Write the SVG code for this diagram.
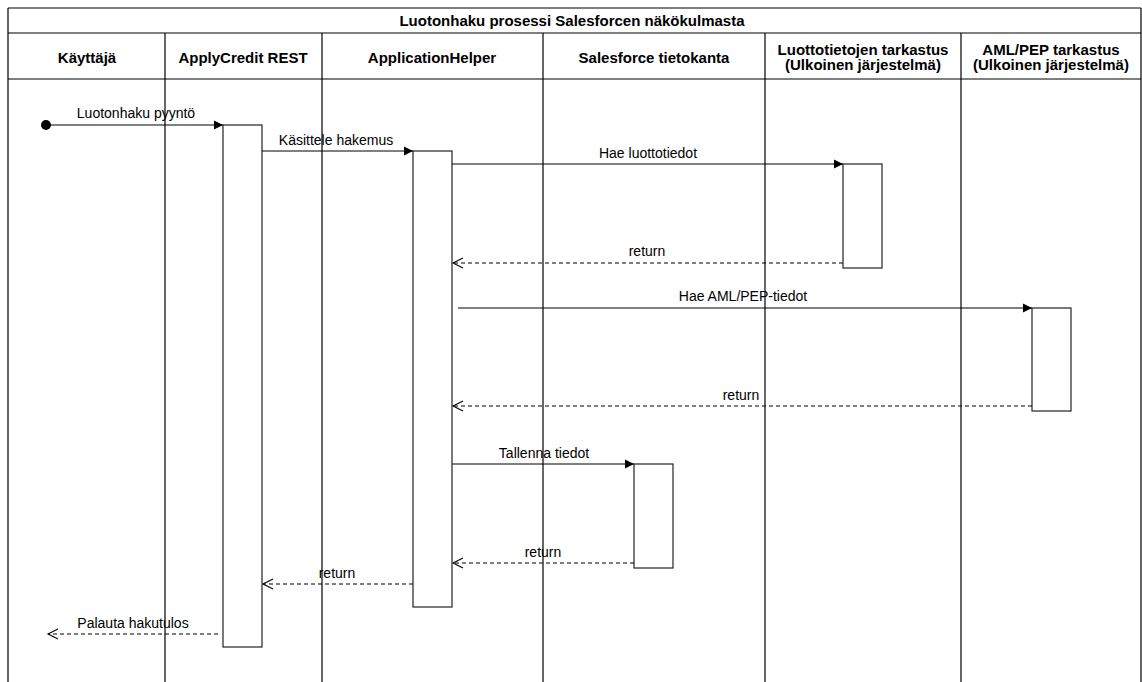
<svg xmlns="http://www.w3.org/2000/svg" width="1142" height="682" viewBox="0 0 1142 682">
<style>
.frame{stroke:#000;stroke-width:1.2;fill:none}
.hdr{font-family:"Liberation Sans",Arial,sans-serif;font-size:15px;font-weight:bold;fill:#000;text-anchor:middle}
.lbl{font-family:"Liberation Sans",Arial,sans-serif;font-size:14px;fill:#000;text-anchor:middle}
.act{fill:#fff;stroke:#222;stroke-width:1.2}
.call{stroke:#000;stroke-width:1;fill:none;marker-end:url(#tri)}
.ret{stroke:#000;stroke-width:1;fill:none;stroke-dasharray:4 3;marker-end:url(#open)}
</style>
<defs>
<marker id="tri" markerWidth="10" markerHeight="10" refX="9" refY="5" orient="auto" markerUnits="userSpaceOnUse">
<path d="M0,0.5 L9,5 L0,9.5 Z" fill="#000"/>
</marker>
<marker id="open" markerWidth="14" markerHeight="12" refX="11" refY="6" orient="auto" markerUnits="userSpaceOnUse">
<path d="M1,1 L11,6 L1,11" fill="none" stroke="#000" stroke-width="1.1"/>
</marker>
</defs>
<rect width="1142" height="682" fill="#fff"/>
<g id="frame">
<line class="frame" x1="8" y1="8" x2="1141" y2="8"/>
<line class="frame" x1="8" y1="33" x2="1141" y2="33"/>
<line class="frame" x1="8" y1="79" x2="1141" y2="79"/>
<line class="frame" x1="8" y1="8" x2="8" y2="682"/>
<line class="frame" x1="1141" y1="8" x2="1141" y2="682"/>
<text class="hdr" x="572" y="26">Luotonhaku prosessi Salesforcen näkökulmasta</text>
</g>
<g id="lane-kayttaja">
<text class="hdr" x="87" y="63">Käyttäjä</text>
<line class="frame" x1="165" y1="33" x2="165" y2="682"/>
</g>
<g id="lane-applycredit">
<text class="hdr" x="243" y="63">ApplyCredit REST</text>
<line class="frame" x1="322" y1="33" x2="322" y2="682"/>
</g>
<g id="lane-applicationhelper">
<text class="hdr" x="432" y="63">ApplicationHelper</text>
<line class="frame" x1="543" y1="33" x2="543" y2="682"/>
</g>
<g id="lane-salesforce">
<text class="hdr" x="654" y="63">Salesforce tietokanta</text>
<line class="frame" x1="765" y1="33" x2="765" y2="682"/>
</g>
<g id="lane-luottotiedot">
<text class="hdr" x="863" y="55">Luottotietojen tarkastus</text>
<text class="hdr" x="863" y="70">(Ulkoinen järjestelmä)</text>
<line class="frame" x1="961" y1="33" x2="961" y2="682"/>
</g>
<g id="lane-amlpep">
<text class="hdr" x="1051" y="55">AML/PEP tarkastus</text>
<text class="hdr" x="1051" y="70">(Ulkoinen järjestelmä)</text>
</g>
<g id="start">
<circle cx="46" cy="125" r="5" fill="#000"/>
</g>
<g id="act-applycredit"><rect class="act" x="223" y="125" width="39" height="522"/></g>
<g id="act-applicationhelper"><rect class="act" x="413" y="151" width="39" height="456"/></g>
<g id="act-luottotiedot"><rect class="act" x="843" y="164" width="39" height="104"/></g>
<g id="act-amlpep"><rect class="act" x="1032" y="308" width="39" height="103"/></g>
<g id="act-salesforce"><rect class="act" x="634" y="464" width="39" height="104"/></g>
<g id="connectors">
<line class="call" x1="46" y1="125" x2="223" y2="125"/>
<text class="lbl" x="136" y="118">Luotonhaku pyyntö</text>
<line class="call" x1="262" y1="151" x2="413" y2="151"/>
<text class="lbl" x="336" y="145">Käsittele hakemus</text>
<line class="call" x1="452" y1="164" x2="843" y2="164"/>
<text class="lbl" x="648" y="158">Hae luottotiedot</text>
<line class="ret" x1="843" y1="263" x2="453" y2="263"/>
<text class="lbl" x="647" y="256">return</text>
<line class="call" x1="458" y1="308" x2="1032" y2="308"/>
<text class="lbl" x="743" y="301">Hae AML/PEP-tiedot</text>
<line class="ret" x1="1032" y1="406" x2="453" y2="406"/>
<text class="lbl" x="741" y="400">return</text>
<line class="call" x1="452" y1="464" x2="634" y2="464"/>
<text class="lbl" x="544" y="458">Tallenna tiedot</text>
<line class="ret" x1="634" y1="563" x2="453" y2="563"/>
<text class="lbl" x="543" y="557">return</text>
<line class="ret" x1="413" y1="584" x2="263" y2="584"/>
<text class="lbl" x="337" y="578">return</text>
<line class="ret" x1="218" y1="634" x2="48" y2="634"/>
<text class="lbl" x="133" y="628">Palauta hakutulos</text>
</g>
</svg>
